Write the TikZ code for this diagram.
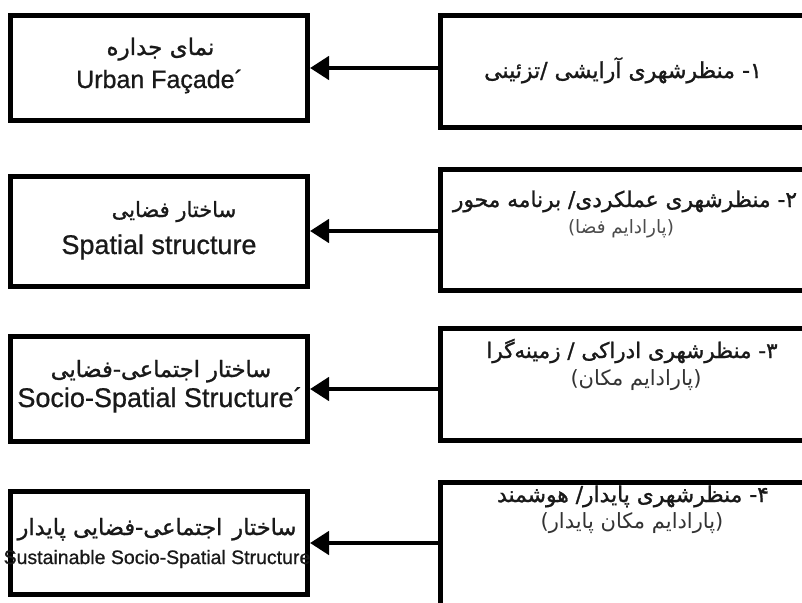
\documentclass[tikz,border=0pt]{standalone}
\usepackage{fontspec}
\setmainfont{Liberation Sans}
\newfontfamily\enb[FakeBold=0.8]{Liberation Sans}
\newfontfamily\fa[Script=Arabic]{DejaVu Sans}
\newfontfamily\fab[Script=Arabic,FakeBold=1.2]{DejaVu Sans}
\TeXXeTstate=1
\usetikzlibrary{arrows.meta}
\tikzset{
  lbox/.style={draw, line width=5pt, minimum width=297pt, inner sep=0pt},
  rbox/.style={draw, line width=5pt, minimum width=369pt, inner sep=0pt},
  en/.style={anchor=base, inner sep=0pt, text=black!90, font=\enb\fontsize{27}{30}\selectfont},
  fat/.style={anchor=base, inner sep=0pt, text=black!90},
  fas/.style={anchor=base, inner sep=0pt, text=black!80},
  arr/.style={line width=4.5pt, -{Triangle[length=19pt,width=23pt]}}
}
\begin{document}
\begin{tikzpicture}[x=1pt,y=-1pt]
\useasboundingbox (0,0) rectangle (802,602);
\fill[white] (0,0) rectangle (802,602);
\clip (0,0) rectangle (802,602);
% left boxes
\node[lbox, minimum height=105pt] (l1) at (159,68) {};
\node[lbox, minimum height=110pt] (l2) at (159,231) {};
\node[lbox, minimum height=105pt] (l3) at (159,389) {};
\node[lbox, minimum height=103pt] (l4) at (159,543) {};
% right boxes
\node[rbox, minimum height=112pt] (r1) at (625,71.5) {};
\node[rbox, minimum height=121pt] (r2) at (625,230) {};
\node[rbox, minimum height=112pt] (r3) at (625,384.5) {};
\node[rbox, minimum height=127pt] (r4) at (625,546) {};
% arrows
\draw[arr] (l1.east -| r1.west) -- (l1.east);
\draw[arr] (l2.east -| r2.west) -- (l2.east);
\draw[arr] (l3.east -| r3.west) -- (l3.east);
\draw[arr] (l4.east -| r4.west) -- (l4.east);
% left texts
\node[fat, font=\fab\fontsize{23}{26}\selectfont] (l1fa) at (160.5,55) {\beginR نمای جداره\endR};
\node[en, anchor=base west, font=\enb\fontsize{25}{28}\selectfont] (l1en) at (76,88) {Urban Façade´};
\node[fat, font=\fab\fontsize{21}{24}\selectfont] (l2fa) at (174,217) {\beginR ساختار فضایی\endR};
\node[en] (l2en) at (159,254) {Spatial structure};
\node[fat, font=\fab\fontsize{22.5}{26}\selectfont] (l3fa) at (161,377) {\beginR ساختار اجتماعی-فضایی\endR};
\node[en] (l3en) at (160,407) {Socio-Spatial Structure´};
\node[fat, font=\fab\fontsize{22.5}{26}\selectfont] (l4fa) at (157,535) {\beginR ساختار\hspace{10pt}اجتماعی-فضایی پایدار\endR};
\node[en, font=\enb\fontsize{19.5}{22}\selectfont] (l4en) at (157,564) {Sustainable Socio-Spatial Structure};
% right texts
\node[fat, font=\fab\fontsize{22}{26}\selectfont] (r1t) at (623,78) {\beginR ۱- منظرشهری آرایشی /تزئینی\endR};
\node[fat, font=\fab\fontsize{21.7}{26}\selectfont] (r2t) at (625,207) {\beginR ۲- منظرشهری عملکردی/ برنامه محور\endR};
\node[fas, text=black!70, font=\fa\fontsize{18.4}{22}\selectfont] (r2s) at (621,233) {\beginR (پارادایم فضا)\endR};
\node[fat, font=\fab\fontsize{21.4}{26}\selectfont] (r3t) at (632,358) {\beginR ۳- منظرشهری ادراکی / زمینه‌گرا\endR};
\node[fas, font=\fa\fontsize{21}{24}\selectfont] (r3s) at (636,385) {\beginR (پارادایم مکان)\endR};
\node[fat, font=\fab\fontsize{21.8}{26}\selectfont] (r4t) at (633,502) {\beginR ۴- منظرشهری پایدار/ هوشمند\endR};
\node[fas, font=\fa\fontsize{21}{24}\selectfont] (r4s) at (632,528) {\beginR (پارادایم مکان پایدار)\endR};
\end{tikzpicture}
\end{document}
